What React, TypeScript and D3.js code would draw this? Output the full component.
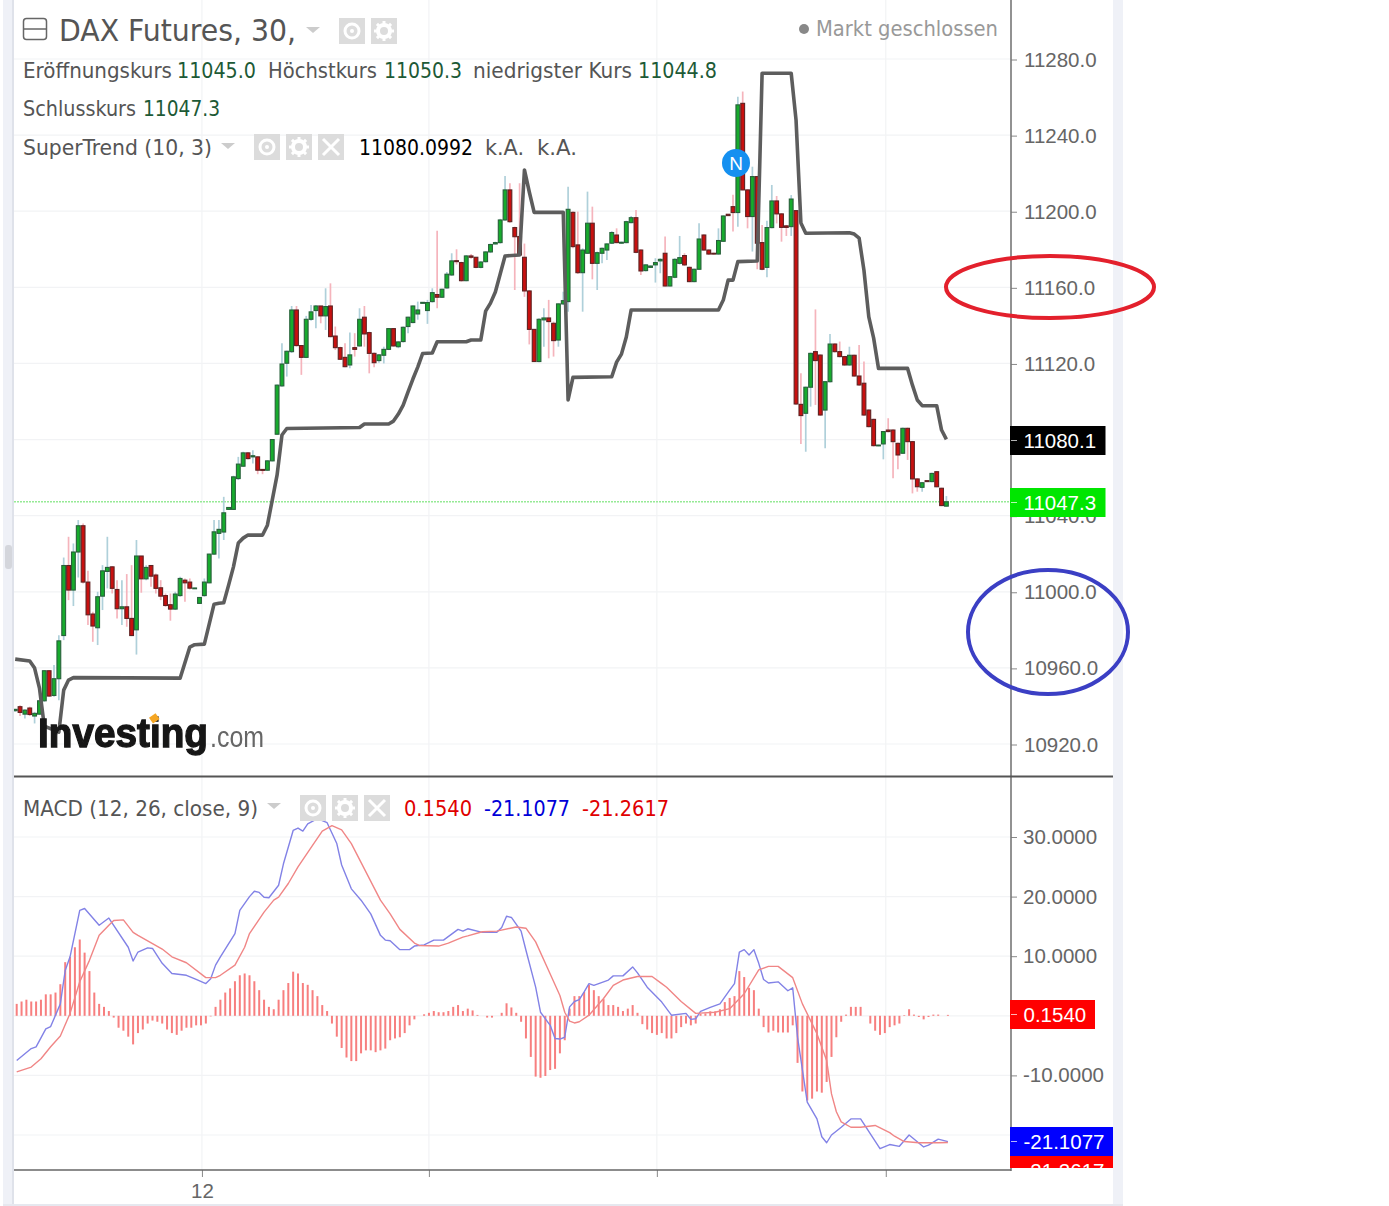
import { useRef, useEffect } from 'react'
import * as d3 from 'd3'

const opens = [
  10937.5, 10939.6, 10935.7, 10938.9, 10934.7, 10935.7, 10942.7, 10958.5, 10945.5, 10954.3,
  10977, 11013.8, 11000.9, 11020.9, 11034.7, 11005.1, 10988.3, 10981.1, 10997.7, 11010.7,
  11013.1, 11001.2, 10991.1, 10992.1, 10986, 10980, 11018.8, 11006.8, 11013.8, 11008.8,
  11002.1, 10998, 10993.2, 10990.9, 10998, 11006.1, 11005.1, 11001.7, 10993.9, 10998,
  11004.7, 11019.8, 11030.7, 11031.4, 11043.3, 11043.3, 11059.5, 11066, 11073, 11070.9,
  11070.9, 11064.3, 11063.9, 11068.8, 11082.8, 11108.2, 11120.1, 11126.2, 11148.1, 11129.4,
  11123.2, 11143.2, 11147.8, 11150.2, 11145, 11150.2, 11134.4, 11128.3, 11123.2, 11119.2,
  11128.3, 11129.2, 11144.3, 11136.2, 11125.3, 11121.5, 11124.3, 11127.4, 11138.3, 11128.8,
  11131.5, 11139.4, 11141.5, 11146, 11151.6, 11147.8, 11152.5, 11156.2, 11154.8, 11159.7,
  11166.5, 11174, 11173, 11163.5, 11176.5, 11175.8, 11170.5, 11173.5, 11178.6, 11182.8,
  11183.5, 11195.4, 11211.2, 11191.4, 11186.7, 11175.8, 11158.1, 11137.9, 11121, 11142.9,
  11143.9, 11141.1, 11132.3, 11151.3, 11152.5, 11199.4, 11182.3, 11167.7, 11177.9, 11193.7,
  11172.6, 11177.9, 11179.6, 11183.2, 11187.5, 11183.2, 11183.5, 11194, 11196.6, 11179.6,
  11168.8, 11170.5, 11171.8, 11173.9, 11177.9, 11160.7, 11165.3, 11172.6, 11176.7, 11170.5,
  11163, 11169.5, 11187.5, 11179.6, 11177.9, 11177.5, 11184.2, 11198.4, 11202.4, 11199.3,
  11256.7, 11211.2, 11197.2, 11218.2, 11183.5, 11170.5, 11191.4, 11205.4, 11198.6, 11192.3,
  11191.9, 11200.3, 11098.5, 11093.8, 11107.5, 11126.2, 11124.4, 11095.5, 11110.4, 11130.2,
  11126.2, 11123.6, 11119.2, 11124.3, 11113.4, 11109.6, 11095.5, 11090.6, 11076.7, 11077.7,
  11085, 11085, 11078, 11072.8, 11085.9, 11078.9, 11059.3, 11054.9, 11058.4, 11057.9,
  11063.1, 11054.4, 11045,
]
const highs = [
  10938.5, 10940.4, 10938.2, 10939.6, 10936.9, 10943, 10958.8, 10958.8, 10961.5, 10977.2,
  11018, 11028.9, 11025.4, 11037.7, 11035.9, 11011, 10989.5, 11000, 11014, 11028.9,
  11013.5, 11006.1, 11006.1, 11009.3, 11014, 11027.2, 11018.8, 11014, 11014, 11009.6,
  11006.1, 10999.1, 10999.1, 11000, 11007.9, 11007, 11007, 11002.1, 10997, 11007,
  11020, 11037.7, 11037.7, 11049.9, 11044.5, 11061, 11070.9, 11073.6, 11073.5, 11074.4,
  11071.3, 11064.5, 11069.2, 11080.3, 11109, 11130.6, 11126.7, 11150.2, 11150.2, 11129.7,
  11145, 11150.7, 11150.7, 11150.2, 11159.5, 11162.1, 11139.4, 11128.8, 11130.6, 11136.2,
  11135.9, 11149, 11150.2, 11136.7, 11125.7, 11125, 11128.8, 11138.6, 11138.6, 11131.7,
  11139.4, 11144.6, 11150.5, 11152.5, 11152.3, 11153.4, 11159.5, 11189.8, 11159.3, 11168,
  11177.9, 11180, 11173.5, 11177, 11177.5, 11176, 11173.8, 11179, 11183, 11184,
  11196, 11218.5, 11214.7, 11191.9, 11214.7, 11183, 11158.6, 11138, 11143.7, 11149,
  11153.4, 11142, 11151.6, 11157.7, 11212.9, 11200, 11199.8, 11180.5, 11210.3, 11202.4,
  11178.8, 11180.9, 11183.2, 11189.5, 11191, 11184, 11195, 11197.5, 11200.7, 11180,
  11172.1, 11171.5, 11175.3, 11175.3, 11186.7, 11166, 11175.3, 11187, 11177.9, 11170.9,
  11169.8, 11193.7, 11187.9, 11180, 11178.2, 11191, 11197.8, 11198.6, 11208.6, 11260.2,
  11262.9, 11211.5, 11223.4, 11218.5, 11192.8, 11195, 11213.8, 11208, 11199, 11192.8,
  11208.5, 11200.7, 11114.8, 11107.8, 11125.7, 11148.4, 11124.8, 11110.8, 11135.5, 11130.6,
  11131.5, 11124, 11128.8, 11124.6, 11129.7, 11121, 11095.9, 11091, 11077.3, 11084.5,
  11091.2, 11085.4, 11078.4, 11086.3, 11086.3, 11079.3, 11059.7, 11057.7, 11058.6, 11062.6,
  11063.5, 11054.7, 11050.3,
]
const lows = [
  10937, 10934.7, 10933.4, 10934.7, 10930.8, 10935.2, 10942.2, 10944.8, 10944.8, 10943,
  10974.6, 10995.6, 10992.5, 11007.5, 11004.4, 10982.5, 10973.7, 10972, 10990.4, 11001.8,
  10999.1, 10986, 10982.5, 10981.6, 10976.7, 10967, 10999.5, 11006.1, 11002.6, 10999.1,
  10995.6, 10992.1, 10984.8, 10990.4, 10997.4, 10994.7, 11001.2, 11001.5, 10993.9, 10997.4,
  11004.5, 11019.3, 11017.5, 11027.2, 11043, 11043, 11058.7, 11065.7, 11069.5, 11067.4,
  11061.8, 11061.8, 11063.5, 11068.5, 11082.5, 11107.8, 11113.1, 11125.5, 11128.8, 11114,
  11122.8, 11142.5, 11138.5, 11141.1, 11137.6, 11133.7, 11127.1, 11121.8, 11118, 11117.5,
  11123.6, 11128.8, 11128.8, 11114.8, 11118, 11120.4, 11120, 11127, 11128.8, 11128,
  11131, 11135.9, 11141.1, 11143, 11151.4, 11140.8, 11152, 11149, 11154.4, 11159.3,
  11166, 11172, 11163, 11163.2, 11175, 11170, 11170, 11173, 11178, 11182.5,
  11183, 11195, 11194, 11158.6, 11176.7, 11155, 11130, 11121, 11120.6, 11128.8,
  11122.7, 11123.6, 11128.8, 11150.7, 11147.2, 11180.5, 11167, 11147.2, 11177.5, 11164.2,
  11158.6, 11172.6, 11174.4, 11182.8, 11183.2, 11183, 11183.2, 11193.7, 11177.9, 11166.5,
  11168.3, 11170.2, 11162.5, 11167.4, 11160.4, 11160.4, 11164.8, 11172, 11171.2, 11162.7,
  11162.7, 11169.2, 11179.3, 11177, 11177.2, 11177.2, 11183.8, 11197.5, 11189.3, 11191.9,
  11211, 11191, 11178.8, 11169.5, 11169, 11165.3, 11191, 11193.6, 11184, 11187,
  11187, 11098.2, 11077.7, 11073.6, 11097.3, 11098.2, 11092.4, 11075.4, 11110, 11125.7,
  11123.2, 11118.7, 11118.8, 11113, 11108.2, 11092.4, 11086.4, 11076.3, 11076.5, 11069.6,
  11083.8, 11059.6, 11064.4, 11072.4, 11069.3, 11051.7, 11052.6, 11052.6, 11057.7, 11057.5,
  11054.9, 11045, 11044.8,
]
const closes = [
  10938.2, 10936.6, 10937.8, 10935.5, 10936.1, 10942.7, 10958.5, 10945.2, 10954.3, 10974.2,
  11013.8, 11000.9, 11020.9, 11034.7, 11005.1, 10987.9, 10982, 10997.4, 11011, 11012.8,
  11001.8, 10991.1, 10992.1, 10986, 10977, 11018.8, 11006.8, 11012.8, 11008.2, 11001.8,
  10997.7, 10992.8, 10990.9, 10998.8, 11007, 11004.7, 11001.9, 11002, 10997, 11005.1,
  11019.8, 11031.5, 11032.8, 11041.5, 11044.3, 11060.4, 11067.1, 11073, 11070, 11071.5,
  11063.9, 11063.8, 11068.8, 11080, 11108.6, 11119.7, 11126.4, 11148.1, 11129.4, 11123.2,
  11143.2, 11147.1, 11150.2, 11145, 11149.9, 11134.1, 11128.3, 11122.2, 11118.3, 11124.5,
  11127.4, 11143.2, 11135.5, 11125.3, 11120.4, 11124.5, 11127.4, 11138.3, 11129.2, 11131.3,
  11139, 11144.3, 11150.2, 11148.1, 11152.1, 11152, 11157.2, 11154.8, 11159, 11166.9,
  11173.9, 11173.5, 11163.5, 11176.5, 11175.8, 11170.5, 11173.3, 11178.6, 11182.5, 11183.5,
  11195.4, 11211.2, 11194.5, 11186.6, 11177, 11158.1, 11137.9, 11121, 11143.2, 11143.9,
  11142, 11132, 11151.3, 11153, 11201, 11181.4, 11167.7, 11179.6, 11193.7, 11172.6,
  11178.2, 11180.5, 11182.8, 11188.8, 11183.5, 11183.7, 11194.5, 11196.6, 11178.4, 11168.6,
  11171.8, 11171.2, 11173, 11174.7, 11160.7, 11165.6, 11174.7, 11175.6, 11171.8, 11163,
  11169.5, 11185.4, 11179.6, 11177.5, 11177.5, 11184.6, 11197.5, 11197.7, 11199.3, 11255.9,
  11211.2, 11197.2, 11218.2, 11183.2, 11169.5, 11191.4, 11205.4, 11198.6, 11191.5, 11191.5,
  11206.4, 11098.7, 11092.6, 11107.5, 11125.3, 11121.5, 11092.9, 11110.4, 11130.2, 11126.2,
  11123.6, 11119.2, 11124.3, 11113.4, 11108.7, 11092.9, 11086.8, 11076.8, 11077.1, 11084.2,
  11084.2, 11078.9, 11071.9, 11085.9, 11078.9, 11059.3, 11055.2, 11057.3, 11057.9, 11062.2,
  11055.2, 11045.3, 11047.3,
]

// SuperTrend turning points: bar number and level
const trendBars = [
  0, 3, 4, 5, 6, 9, 10, 11, 12, 34, 36, 37, 39, 41, 42, 43, 44, 45, 46, 47, 48, 51, 52, 53, 54, 55, 56, 71, 72, 77,
  78, 79, 80, 81, 82, 83, 84, 86, 87, 93, 94, 96, 97, 98, 99, 100, 101, 104, 105, 106, 107, 113, 114, 115, 123, 124,
  125, 126, 127, 145, 146, 147, 148, 149, 153, 154, 160, 161, 162, 163, 172, 173, 174, 175, 176, 177, 178, 184, 185,
  186, 187, 190, 191, 192,
]
const trendLevels = [
  10964.6, 10963.6, 10959.9, 10949.4, 10929.4, 10926.3, 10948.3, 10953.6, 10954.9, 10954.6, 10970.9, 10972.2, 10972.5,
  10993.5, 10994, 10994.2, 11003.5, 11013.1, 11025.6, 11028.2, 11029.8, 11029.8, 11035, 11048.2, 11061.4, 11082.4,
  11085.8, 11086.3, 11088.2, 11088.2, 11089.7, 11093.4, 11098.1, 11105, 11111.8, 11118.1, 11125.2, 11125.5, 11131.4,
  11131.4, 11132.3, 11132.3, 11147.5, 11151.7, 11157.5, 11167, 11176.5, 11177, 11221.7, 11210.1, 11199.4, 11199.4,
  11100.8, 11112.7, 11113, 11120.7, 11124.9, 11133.9, 11148.1, 11148.1, 11153.3, 11163.8, 11163.8, 11173.5, 11173.8,
  11272.5, 11272.5, 11247.9, 11193.8, 11188.4, 11188.7, 11188, 11185.9, 11169, 11144.5, 11133.3, 11117.4, 11117.4,
  11108.6, 11100.8, 11097.8, 11097.8, 11085, 11080.1,
]

const histValues = [
  2.0, 2.4, 2.7, 2.4, 2.4, 2.7, 3.6, 3.6, 3.9, 5.3, 9.0, 9.9, 11.5, 12.8, 10.6, 7.5, 3.9, 2.0, 1.5, 0.8,
  -0.3, -2.0, -2.5, -3.5, -4.8, -2.9, -2.3, -1.3, -0.8, -1.0, -1.3, -2.3, -2.9, -3.2, -2.5, -2.0, -2.0, -1.6, -1.6, -1.3,
  -0.1, 1.5, 2.7, 3.9, 4.6, 5.8, 6.8, 7.1, 6.8, 5.8, 4.3, 2.7, 1.5, 1.1, 2.7, 4.3, 5.5, 7.4, 7.1, 5.5,
  5.2, 4.3, 3.3, 1.8, 0.8, -1.3, -3.5, -5.4, -7.0, -7.6, -7.6, -6.3, -5.8, -5.8, -6.1, -5.8, -5.5, -4.1, -3.8, -3.6,
  -2.9, -1.6, -0.6, 0, 0.25, 0.5, 0.8, 0.6, 0.6, 0.8, 1.5, 1.8, 0.8, 1.2, 0.9, 0.15, 0, -0.3, -0.3, 0,
  0.5, 2.1, 1.4, 0.5, -1.0, -3.8, -6.9, -10.2, -10.4, -10.1, -9.1, -8.9, -6.3, -4.1, 1.2, 3.3, 3.3, 4.0, 5.2, 4.3,
  3.3, 2.8, 1.8, 1.8, 1.5, 0.8, 1.2, 1.8, 0.5, -1.4, -2.3, -2.9, -3.2, -2.9, -3.8, -3.8, -2.9, -1.9, -1.3, -1.6,
  -1.3, 0.3, 0.4, 0.75, 0.75, 1.1, 2.3, 3.0, 3.3, 7.5, 6.5, 4.7, 4.3, 1.2, -1.9, -2.8, -2.5, -2.8, -2.8, -2.8,
  -1.6, -7.9, -12.7, -14.2, -13.9, -12.7, -12.9, -11.1, -6.9, -3.6, -1.0, 0.2, 1.5, 1.5, 1.5, 0, -1.3, -2.5, -3.2, -2.9,
  -1.9, -1.6, -1.3, 0.1, 1.1, 0.2, -0.2, -0.6, -0.2, 0.2, 0.2, 0, 0.154,
]

const macdBars = [
  0, 3, 4, 6, 7, 9, 10, 11, 13, 14, 17, 19, 23, 24, 25, 27, 28, 30, 32, 35, 37, 39, 40, 41, 42, 45, 46, 48, 49, 50,
  51, 52, 54, 55, 57, 58, 59, 60, 62, 64, 66, 67, 69, 71, 73, 75, 76, 77, 79, 81, 82, 84, 86, 88, 91, 92, 93, 96, 99,
  100, 101, 102, 104, 105, 107, 108, 110, 111, 112, 113, 114, 115, 116, 117, 118, 119, 122, 123, 125, 127, 128, 130,
  133, 135, 138, 139, 140, 141, 143, 145, 147, 148, 149, 150, 151, 152, 153, 154, 155, 157, 159, 160, 161, 163, 165,
  166, 167, 168, 170, 172, 174, 178, 180, 182, 184, 187, 188, 190, 192,
]
const macdValues = [
  -7.5, -5.5, -5.2, -2.2, -1.8, 2.0, 7.6, 9.9, 17.7, 18.0, 15.2, 16.4, 11.5, 9.2, 10.7, 11.4, 11.3, 8.8, 7.1, 6.8,
  6.1, 5.4, 6.2, 8.5, 9.9, 13.8, 17.7, 20.0, 20.9, 20.7, 19.9, 19.8, 21.9, 25.5, 31.1, 31.5, 31.0, 32.2, 33.1, 32.4,
  28.9, 25.3, 21.3, 19.4, 17.1, 13.5, 12.7, 12.6, 11.1, 11.1, 11.7, 11.9, 12.7, 12.7, 14.5, 14.2, 14.6, 14.0, 14.0,
  14.8, 16.7, 16.5, 14.2, 11.0, 4.8, 0.6, -1.6, -3.8, -3.9, -3.6, 1.5, 2.4, 2.7, 4.0, 5.4, 5.1, 6.0, 6.7, 6.7, 8.2,
  7.2, 4.8, 2.3, 0.1, 0.4, -0.6, -0.5, 0.75, 1.4, 2.0, 4.3, 5.4, 10.7, 11.1, 10.2, 11.1, 8.8, 6.1, 5.5, 5.7, 4.2,
  4.7, -3.6, -14.5, -17.3, -20.3, -21.3, -20, -18.7, -17.3, -17.3, -22.3, -21.6, -21.9, -20, -22, -21.7, -20.7, -21.1,
]

const signalBars = [
  0, 3, 5, 7, 9, 11, 13, 15, 17, 19, 20, 22, 24, 25, 30, 32, 35, 39, 41, 42, 45, 47, 48, 51, 53, 54, 56, 58, 61, 63,
  65, 67, 69, 75, 77, 79, 82, 83, 87, 89, 92, 93, 96, 99, 103, 105, 107, 110, 112, 113, 114, 115, 116, 118, 121, 123,
  125, 128, 131, 133, 134, 137, 140, 144, 147, 150, 153, 155, 157, 160, 162, 165, 167, 168, 169, 170, 172, 174, 177,
  180, 181, 183, 186, 190, 192,
]
const signalValues = [
  -9.4, -8.6, -7.2, -5.2, -3.4, 0.4, 5.7, 9.3, 13.5, 15.2, 16.0, 16.1, 14.0, 13.5, 11.2, 9.9, 8.9, 6.4, 6.4, 6.8,
  8.5, 11.5, 13.8, 17.4, 19.4, 19.9, 22.2, 25.0, 28.6, 31.0, 31.9, 31.2, 28.9, 19.4, 17.1, 14.5, 12.2, 11.8, 11.7,
  12.2, 13.2, 13.4, 14.1, 14.2, 14.9, 14.7, 12.4, 7.0, 3.4, 0.6, -0.9, -1.2, -1.0, 0.1, 2.9, 5.1, 6.0, 6.6, 6.6, 5.4,
  4.8, 2.4, 0.4, 0.6, 1.2, 3.7, 7.7, 8.3, 8.3, 6.4, 2.0, -3.0, -7.5, -13.1, -16.1, -17.8, -18.7, -18.7, -18.4, -19.6,
  -20.2, -21.1, -21.3, -21.3, -21.26,
]

const priceTicks = [11280, 11240, 11200, 11160, 11120, 11080, 11040, 11000, 10960, 10920]
const macdTicks = [30, 20, 10, 0, -10, -20]
const timeTicks = [38.5, 85.3, 132.3, 179.5]
const timeLabels = ['12', '', '', '']

const UI_FONT = '"DejaVu Sans Condensed", "DejaVu Sans", sans-serif'
const AXIS_FONT = '"Liberation Sans", Arial, sans-serif'

export default function App() {
  const svgRef = useRef<SVGSVGElement>(null)

  useEffect(() => {
    if (!svgRef.current) return
    const svg = d3.select(svgRef.current)
    svg.selectAll('*').remove()

    const x = d3.scaleLinear().domain([0, 192]).range([15.2, 946.4])
    const y = d3.scaleLinear().domain([10920, 11280]).range([744, 59])
    const my = d3.scaleLinear().domain([-20, 30]).range([1135, 837])

    const defs = svg.append('defs')
    defs.append('clipPath').attr('id', 'main-clip').append('rect')
      .attr('x', 14).attr('y', 0).attr('width', 997).attr('height', 776)
    defs.append('clipPath').attr('id', 'macd-clip').append('rect')
      .attr('x', 14).attr('y', 777).attr('width', 997).attr('height', 393)
    defs.append('clipPath').attr('id', 'label-clip').append('rect')
      .attr('x', 1010).attr('y', 1000).attr('width', 104).attr('height', 168)
    defs.append('filter').attr('id', 'soft').append('feGaussianBlur').attr('stdDeviation', 0.6)

    // page strips
    svg.append('rect').attr('x', 3).attr('y', 0).attr('width', 10).attr('height', 1206).attr('fill', '#eff1f7')
    svg.append('rect').attr('x', 12).attr('y', 0).attr('width', 2).attr('height', 1206).attr('fill', '#dfe2ea')
    svg.append('rect').attr('x', 1113).attr('y', 0).attr('width', 10).attr('height', 1206).attr('fill', '#eff1f7')
    svg.append('rect').attr('x', 3).attr('y', 1204).attr('width', 1120).attr('height', 2).attr('fill', '#e6e8ef')
    svg.append('rect').attr('x', 5).attr('y', 545).attr('width', 7).attr('height', 24).attr('rx', 3).attr('fill', '#d4d6dc')

    // grid
    const grid = svg.append('g').attr('stroke', '#f2f3f5').attr('stroke-width', 1.2)
    priceTicks.forEach((t) => {
      grid.append('line').attr('x1', 14).attr('x2', 1011).attr('y1', y(t)).attr('y2', y(t))
    })
    macdTicks.forEach((t) => {
      grid.append('line').attr('x1', 14).attr('x2', 1011).attr('y1', my(t)).attr('y2', my(t))
    })
    timeTicks.forEach((t) => {
      grid.append('line').attr('x1', x(t)).attr('x2', x(t)).attr('y1', 0).attr('y2', 1170)
    })

    // last price line
    svg.append('line').attr('x1', 14).attr('x2', 1011).attr('y1', y(11047.3)).attr('y2', y(11047.3))
      .attr('stroke', '#96ea96').attr('stroke-width', 1.5).attr('stroke-dasharray', '2 1')

    const main = svg.append('g').attr('clip-path', 'url(#main-clip)')

    // candles
    const bars = d3.range(opens.length)
    main.append('g').selectAll('line').data(bars).join('line')
      .attr('x1', (i) => x(i)).attr('x2', (i) => x(i))
      .attr('y1', (i) => y(highs[i])).attr('y2', (i) => y(lows[i]))
      .attr('stroke', (i) => (closes[i] >= opens[i] ? '#afd0da' : '#f5b4bc'))
      .attr('stroke-width', 1.7)
    main.append('g').selectAll('rect').data(bars).join('rect')
      .attr('x', (i) => x(i) - 1.9)
      .attr('width', 3.8)
      .attr('y', (i) => y(Math.max(opens[i], closes[i])))
      .attr('height', (i) => Math.max(0.8, Math.abs(y(opens[i]) - y(closes[i]))))
      .attr('fill', (i) => (closes[i] >= opens[i] ? '#17ab2d' : '#c8100f'))
      .attr('stroke', (i) => (closes[i] >= opens[i] ? '#27603a' : '#5e2222'))
      .attr('stroke-width', 1.1)

    // SuperTrend
    const trendLine = d3.line<number>()
      .x((b) => x(b))
      .y((_, i) => y(trendLevels[i]))
    main.append('path')
      .attr('d', trendLine(trendBars) ?? '')
      .attr('fill', 'none')
      .attr('stroke', '#5d5d5d')
      .attr('stroke-width', 3.6)
      .attr('stroke-linejoin', 'round')

    // news marker
    main.append('circle').attr('cx', 736).attr('cy', 163).attr('r', 14).attr('fill', '#1590f0')
    main.append('text').attr('x', 736).attr('y', 170).attr('text-anchor', 'middle')
      .attr('font-family', AXIS_FONT).attr('font-size', 19).attr('fill', '#fff').text('N')

    // logo
    const logo = main.append('g').attr('filter', 'url(#soft)')
    logo.append('text').attr('x', 38).attr('y', 747)
      .attr('font-family', AXIS_FONT).attr('font-weight', 700).attr('font-size', 41)
      .attr('textLength', 170).attr('lengthAdjust', 'spacingAndGlyphs')
      .attr('stroke', '#141414').attr('stroke-width', 1.3)
      .attr('fill', '#141414').text('Investing')
    logo.append('text').attr('x', 210).attr('y', 747)
      .attr('font-family', AXIS_FONT).attr('font-size', 30)
      .attr('textLength', 54).attr('lengthAdjust', 'spacingAndGlyphs')
      .attr('fill', '#666').text('.com')
    logo.append('rect').attr('x', 150).attr('y', 715).attr('width', 8).attr('height', 7)
      .attr('transform', 'rotate(-35 154 718)').attr('fill', '#f5a623')

    // MACD panel
    const macd = svg.append('g').attr('clip-path', 'url(#macd-clip)')
    macd.append('g').selectAll('rect').data(histValues).join('rect')
      .attr('x', (_, i) => x(i) + 0.5)
      .attr('width', 2)
      .attr('y', (v) => Math.min(my(v), my(0)))
      .attr('height', (v) => Math.abs(my(v) - my(0)))
      .attr('fill', '#f77f7f')
    const macdLine = d3.line<number>().x((b) => x(b) + 1.5).y((_, i) => my(macdValues[i]))
    const signalLine = d3.line<number>().x((b) => x(b) + 1.5).y((_, i) => my(signalValues[i]))
    macd.append('path').attr('d', macdLine(macdBars) ?? '')
      .attr('fill', 'none').attr('stroke', '#8282e6').attr('stroke-width', 1.4).attr('stroke-linejoin', 'round')
    macd.append('path').attr('d', signalLine(signalBars) ?? '')
      .attr('fill', 'none').attr('stroke', '#f08686').attr('stroke-width', 1.4).attr('stroke-linejoin', 'round')

    // axes
    const styleAxis = (g: d3.Selection<SVGGElement, unknown, null, undefined>) => {
      g.select('.domain').remove()
      g.attr('font-family', AXIS_FONT).attr('font-size', 20.5)
      g.selectAll('text').attr('fill', '#666')
      g.selectAll('line').attr('stroke', '#888')
    }
    const plainFormat = (spec: string) => (v: d3.NumberValue) => d3.format(spec)(v).replace('\u2212', '-')
    svg.append('g').attr('transform', 'translate(1011,0.5)')
      .call(d3.axisRight(y).tickValues(priceTicks).tickSize(6).tickPadding(7).tickFormat(plainFormat('.1f')))
      .call(styleAxis)
    svg.append('g').attr('transform', 'translate(1011,0)')
      .call(d3.axisRight(my).tickValues(macdTicks).tickSize(6).tickPadding(6).tickFormat(plainFormat('.4f')))
      .call(styleAxis)
    const timeScale = d3.axisBottom(x).tickValues(timeTicks).tickSize(7).tickPadding(6)
      .tickFormat((_, i) => timeLabels[i])
    svg.append('g').attr('transform', 'translate(0,1170)').call(timeScale).call(styleAxis)

    // panel frame
    svg.append('line').attr('x1', 1011).attr('x2', 1011).attr('y1', 0).attr('y2', 1171)
      .attr('stroke', '#777').attr('stroke-width', 1.6)
    svg.append('line').attr('x1', 14).attr('x2', 1113).attr('y1', 776.5).attr('y2', 776.5)
      .attr('stroke', '#555').attr('stroke-width', 1.8)
    svg.append('line').attr('x1', 14).attr('x2', 1011).attr('y1', 1170).attr('y2', 1170)
      .attr('stroke', '#666').attr('stroke-width', 1.6)

    // value boxes
    const boxes = svg.append('g').attr('font-family', AXIS_FONT).attr('font-size', 20.5)
    const box = (top: number, h: number, right: number, fill: string, label: string, clip?: boolean) => {
      const g = boxes.append('g')
      if (clip) g.attr('clip-path', 'url(#label-clip)')
      g.append('rect').attr('x', 1010).attr('y', top).attr('width', right - 1010).attr('height', h).attr('fill', fill)
      g.append('line').attr('x1', 1011).attr('x2', 1017).attr('y1', top + h / 2).attr('y2', top + h / 2)
        .attr('stroke', '#fff').attr('stroke-opacity', 0.7)
      g.append('text').attr('x', 1023.5).attr('y', top + h / 2 + 7).attr('fill', '#fff').text(label)
    }
    box(426, 29, 1105.5, '#000', '11080.1')
    box(488, 29, 1105.5, '#00e600', '11047.3')
    box(1000, 29, 1095, '#ff0000', '0.1540')
    box(1156, 29, 1113, '#ff0000', '-21.2617', true)
    box(1127, 29, 1113, '#0000ff', '-21.1077')

    // legend text
    const legend = svg.append('g').attr('font-family', UI_FONT).attr('font-size', 22)
    const label = (
      px: number,
      py: number,
      width: number,
      str: string,
      fill = '#555',
      size = 22,
    ) => {
      legend.append('text').attr('x', px).attr('y', py).attr('font-size', size)
        .attr('textLength', width).attr('lengthAdjust', 'spacingAndGlyphs')
        .attr('fill', fill).text(str)
    }
    const darkGreen = '#1d5a36'
    label(59, 41, 237, 'DAX Futures, 30,', '#555', 31)
    label(816, 36, 182, 'Markt geschlossen', '#999')
    label(23, 78, 149, 'Eröffnungskurs')
    label(177, 78, 79, '11045.0', darkGreen)
    label(268, 78, 109, 'Höchstkurs')
    label(384, 78, 78, '11050.3', darkGreen)
    label(473, 78, 159, 'niedrigster Kurs')
    label(638, 78, 79, '11044.8', darkGreen)
    label(23, 116, 113, 'Schlusskurs')
    label(143, 116, 77, '11047.3', darkGreen)
    label(23, 155, 189, 'SuperTrend (10, 3)')
    label(359, 155, 114, '11080.0992', '#000')
    label(485, 155, 39, 'k.A.')
    label(537, 155, 40, 'k.A.')
    label(23, 816, 235, 'MACD (12, 26, close, 9)')
    label(404, 816, 68, '0.1540', '#e00000')
    label(484, 816, 86, '-21.1077', '#0000d8')
    label(582, 816, 87, '-21.2617', '#e00000')

    svg.append('circle').attr('cx', 804).attr('cy', 29).attr('r', 5).attr('fill', '#888')

    // title widgets
    svg.append('rect').attr('x', 23.5).attr('y', 18.5).attr('width', 23).attr('height', 21).attr('rx', 3)
      .attr('fill', 'none').attr('stroke', '#666').attr('stroke-width', 1.5)
    svg.append('line').attr('x1', 24).attr('x2', 46).attr('y1', 29).attr('y2', 29)
      .attr('stroke', '#666').attr('stroke-width', 1.5)

    const caret = (cx: number, cy: number) => {
      svg.append('path').attr('d', `M${cx - 7},${cy - 3}L${cx + 7},${cy - 3}L${cx},${cy + 3}Z`).attr('fill', '#ccc')
    }
    caret(313, 30)
    caret(228, 146)
    caret(274, 806)

    const iconBox = (px: number, py: number, kind: 'eye' | 'gear' | 'close') => {
      const s = 26
      const cx = px + s / 2
      const cy = py + s / 2
      const g = svg.append('g')
      g.append('rect').attr('x', px).attr('y', py).attr('width', s).attr('height', s).attr('fill', '#dcdcdc')
      if (kind === 'eye') {
        g.append('circle').attr('cx', cx).attr('cy', cy).attr('r', 7)
          .attr('fill', 'none').attr('stroke', '#fff').attr('stroke-width', 3)
        g.append('circle').attr('cx', cx).attr('cy', cy).attr('r', 2).attr('fill', '#fff')
      } else if (kind === 'gear') {
        g.append('circle').attr('cx', cx).attr('cy', cy).attr('r', 6)
          .attr('fill', 'none').attr('stroke', '#fff').attr('stroke-width', 4)
        d3.range(8).forEach((k) => {
          const a = (k * Math.PI) / 4
          g.append('line')
            .attr('x1', cx + 7 * Math.cos(a)).attr('y1', cy + 7 * Math.sin(a))
            .attr('x2', cx + 10 * Math.cos(a)).attr('y2', cy + 10 * Math.sin(a))
            .attr('stroke', '#fff').attr('stroke-width', 3)
        })
      } else {
        g.append('path').attr('d', `M${cx - 8},${cy - 8}L${cx + 8},${cy + 8}M${cx + 8},${cy - 8}L${cx - 8},${cy + 8}`)
          .attr('stroke', '#fff').attr('stroke-width', 3)
      }
    }
    iconBox(339, 18, 'eye')
    iconBox(371, 18, 'gear')
    iconBox(254, 134, 'eye')
    iconBox(286, 134, 'gear')
    iconBox(318, 134, 'close')
    iconBox(300, 795, 'eye')
    iconBox(332, 795, 'gear')
    iconBox(364, 795, 'close')

    // hand drawn annotations
    svg.append('ellipse').attr('cx', 1050).attr('cy', 287).attr('rx', 104).attr('ry', 31)
      .attr('fill', 'none').attr('stroke', '#e3202c').attr('stroke-width', 4)
    svg.append('ellipse').attr('cx', 1048).attr('cy', 632).attr('rx', 80).attr('ry', 62)
      .attr('fill', 'none').attr('stroke', '#3b3fc4').attr('stroke-width', 4)

    return () => {
      svg.selectAll('*').remove()
    }
  }, [])

  return (
    <svg
      ref={svgRef}
      width={1389}
      height={1206}
      style={{ position: 'absolute', left: 0, top: 0, display: 'block', background: '#fff' }}
    />
  )
}
